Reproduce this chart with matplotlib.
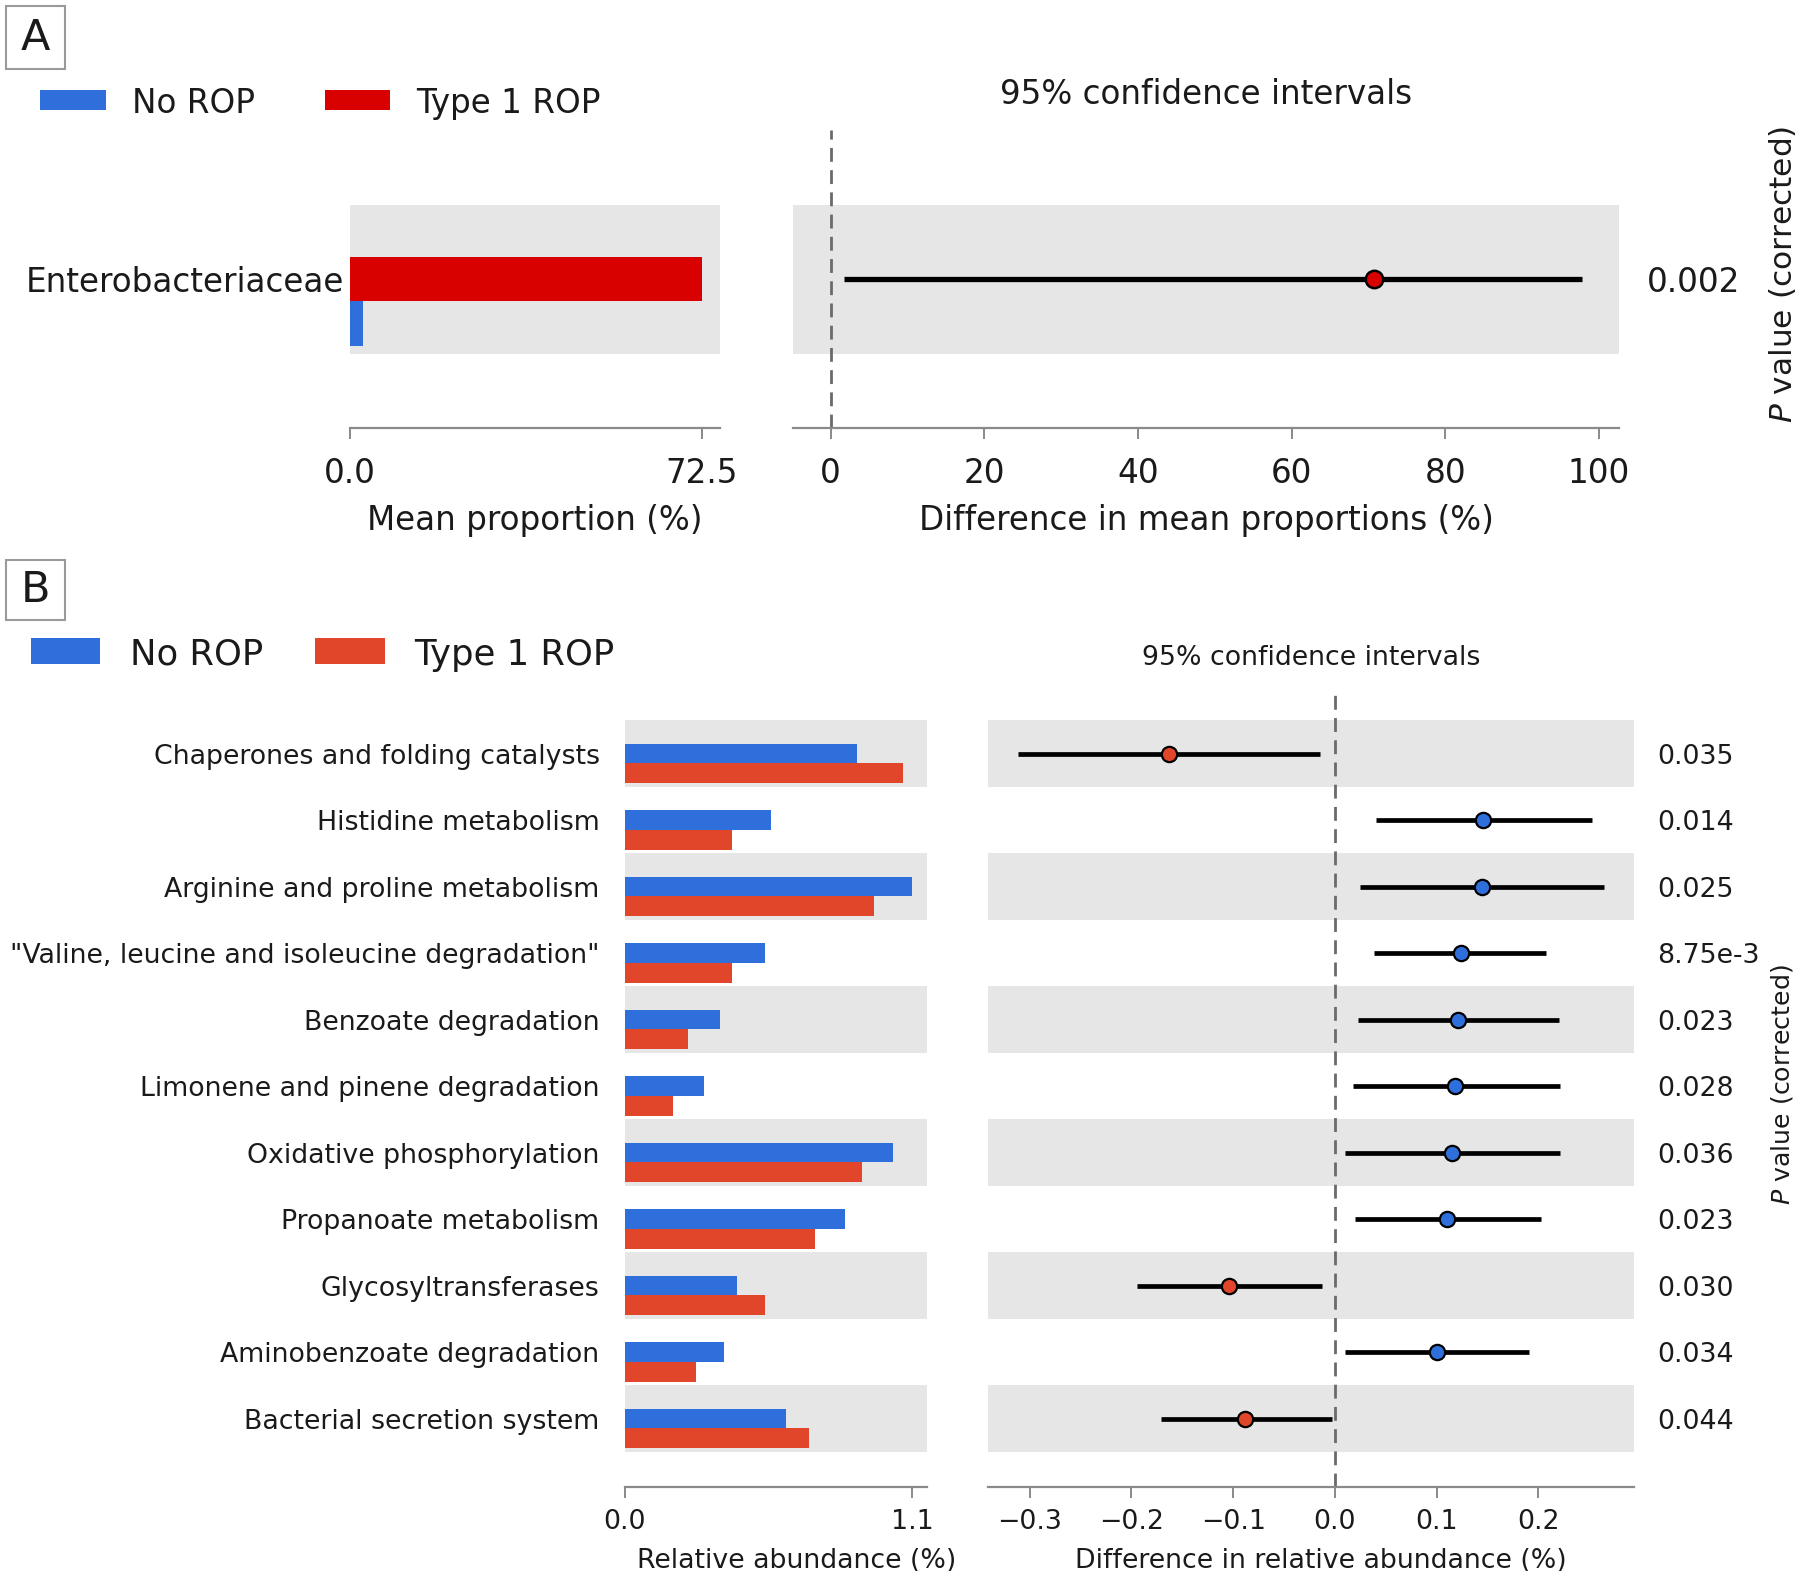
import matplotlib
matplotlib.use("Agg")
import matplotlib.pyplot as plt
from matplotlib.patches import Rectangle

W, H = 1800, 1571
DPI = 100

# ---------------- Panel A data ----------------
a_categories = ["Enterobacteriaceae"]
a_no_rop = [2.6]
a_type1 = [72.5]
a_diff = [70.7]
a_ci_low = [1.7]
a_ci_high = [97.8]
a_pvalues = ["0.002"]
a_diff_ticks = [0, 20, 40, 60, 80, 100]

# ---------------- Panel B data ----------------
b_categories = [
    "Chaperones and folding catalysts",
    "Histidine metabolism",
    "Arginine and proline metabolism",
    '"Valine, leucine and isoleucine degradation"',
    "Benzoate degradation",
    "Limonene and pinene degradation",
    "Oxidative phosphorylation",
    "Propanoate metabolism",
    "Glycosyltransferases",
    "Aminobenzoate degradation",
    "Bacterial secretion system",
]
b_no_rop = [0.889, 0.562, 1.100, 0.538, 0.367, 0.304, 1.025, 0.843, 0.431, 0.379, 0.616]
b_type1 = [1.065, 0.410, 0.955, 0.410, 0.241, 0.187, 0.908, 0.728, 0.538, 0.274, 0.707]
b_diff = [-0.163, 0.146, 0.145, 0.124, 0.121, 0.118, 0.115, 0.1105, -0.104, 0.100, -0.088]
b_ci_low = [-0.312, 0.0405, 0.0247, 0.0384, 0.0226, 0.0174, 0.0095, 0.0195, -0.1947, 0.0095, -0.1705]
b_ci_high = [-0.0147, 0.2526, 0.2642, 0.2079, 0.2200, 0.2211, 0.2211, 0.2026, -0.0126, 0.1905, -0.0026]
b_pvalues = ["0.035", "0.014", "0.025", "8.75e-3", "0.023", "0.028", "0.036", "0.023", "0.030", "0.034", "0.044"]
b_diff_ticks = [-0.3, -0.2, -0.1, 0.0, 0.1, 0.2]

group_names = ["No ROP", "Type 1 ROP"]

# ---------------- style ----------------
plt.rcParams["font.family"] = ["DejaVu Sans"]
TXT = "#1a1a1a"
BAND = "#e6e6e6"
SPINE = "#8a8a8a"
A_BLUE, A_RED = "#2f6fdc", "#d90000"
B_BLUE, B_RED = "#2f6fdc", "#e2462a"
FA = 23.5   # panel A font size
FB = 19.3   # panel B font size

fig = plt.figure(figsize=(W / DPI, H / DPI), dpi=DPI)


def add_ax(x0, y0, x1, y1):
    return fig.add_axes([x0 / W, 1 - y1 / H, (x1 - x0) / W, (y1 - y0) / H])


def fx(x):
    return x / W


def fy(y):
    return 1 - y / H


def style(ax, fs, pad):
    for s in ("top", "left", "right"):
        ax.spines[s].set_visible(False)
    ax.spines["bottom"].set_color(SPINE)
    ax.spines["bottom"].set_linewidth(1.6)
    ax.tick_params(axis="x", direction="out", length=8, width=1.4, color=SPINE,
                   labelsize=fs, labelcolor=TXT, pad=pad)
    ax.set_facecolor("none")


def panel_label(letter, x0, y0, x1, y1):
    fig.add_artist(Rectangle((fx(x0), fy(y1)), (x1 - x0) / W, (y1 - y0) / H,
                             transform=fig.transFigure, fc="white", ec="#9a9a9a", lw=1.5))
    fig.text(fx((x0 + x1) / 2), fy((y0 + y1) / 2), letter, ha="center", va="center",
             fontsize=31, color=TXT)


def legend(items, y0, y1, fs):
    for (px0, px1, tx, color, name) in items:
        fig.add_artist(Rectangle((fx(px0), fy(y1)), (px1 - px0) / W, (y1 - y0) / H,
                                 transform=fig.transFigure, fc=color, ec="none"))
        fig.text(fx(tx), fy((y0 + y1) / 2), name, ha="left", va="center_baseline",
                 fontsize=fs, color=TXT)


# ================= Panel A =================
panel_label("A", 6, 6, 65, 69)
legend([(40, 106, 132, A_BLUE, group_names[0]),
        (325, 390, 416, A_RED, group_names[1])], 90, 110, FA)

axA1 = add_ax(350, 130, 720, 428)
axA2 = add_ax(793, 130, 1619, 428)
ya = list(range(len(a_categories) - 1, -1, -1))

for i, y in enumerate(ya):
    if i % 2 == 0:
        axA1.axhspan(y - 0.5, y + 0.5, color=BAND, zorder=0, lw=0)
        axA2.axhspan(y - 0.5, y + 0.5, color=BAND, zorder=0, lw=0)
axA1.barh(ya, a_type1, height=0.3, left=0, color=A_RED, zorder=2)
axA1.barh([y - 0.3 for y in ya], a_no_rop, height=0.3, left=0, color=A_BLUE, zorder=2)
a_max = max(max(a_type1), max(a_no_rop))
axA1.set_xlim(0, a_max * 1.051)
axA1.set_ylim(-1, len(a_categories))
axA1.set_xticks([0, a_max], labels=["0.0", f"{a_max:.1f}"])
axA1.set_yticks(ya, labels=a_categories)
axA1.tick_params(axis="y", length=0, pad=4, labelsize=FA, labelcolor=TXT)
for t in axA1.get_yticklabels():
    t.set_va("center_baseline")
style(axA1, FA, 13)
axA1.set_xlabel("Mean proportion (%)", fontsize=FA, color=TXT, labelpad=10)

axA2.axvline(0, color="#6a6a6a", lw=2.0, ls=(0, (5, 3)), zorder=1)
axA2.hlines(ya, a_ci_low, a_ci_high, color="black", lw=3.8, zorder=2)
for y, d in zip(ya, a_diff):
    axA2.plot(d, y, "o", ms=12.5, mfc=A_RED if d > 0 else A_BLUE, mec="black", mew=1.8, zorder=3)
axA2.set_xlim(-4.9, 102.6)
axA2.set_ylim(-1, len(a_categories))
axA2.set_xticks(a_diff_ticks)
axA2.set_yticks([])
style(axA2, FA, 13)
axA2.set_xlabel("Difference in mean proportions (%)", fontsize=FA, color=TXT, labelpad=10)
for y, p in zip(ya, a_pvalues):
    axA2.annotate(p, xy=(1, y), xycoords=("axes fraction", "data"), xytext=(20, 0),
                  textcoords="offset points", ha="left", va="center_baseline",
                  fontsize=FA, color=TXT)
fig.text(fx(1206), fy(95), "95% confidence intervals", ha="center", va="center",
         fontsize=FA, color=TXT)
fig.text(fx(1782), fy(274), r"$\it{P}$ value (corrected)", rotation=90, ha="center",
         va="center", fontsize=22.5, color=TXT)

# ================= Panel B =================
panel_label("B", 6, 560, 65, 620)
legend([(31, 100, 130, B_BLUE, group_names[0]),
        (315, 385, 414, B_RED, group_names[1])], 638, 664, 25.5)

axB1 = add_ax(624.5, 687, 926.5, 1487)
axB2 = add_ax(988, 687, 1634, 1487)
n = len(b_categories)
yb = list(range(n - 1, -1, -1))

for i, y in enumerate(yb):
    if i % 2 == 0:
        axB1.axhspan(y - 0.5, y + 0.5, color=BAND, zorder=0, lw=0)
        axB2.axhspan(y - 0.5, y + 0.5, color=BAND, zorder=0, lw=0)
axB1.barh(yb, b_no_rop, height=0.3, left=0, color=B_BLUE, zorder=2)
axB1.barh([y - 0.3 for y in yb], b_type1, height=0.3, left=0, color=B_RED, zorder=2)
b_max = max(max(b_type1), max(b_no_rop))
axB1.set_xlim(0, b_max * 1.05)
axB1.set_ylim(-1.03, n)
axB1.set_xticks([0, b_max], labels=["0.0", f"{b_max:.1f}"])
axB1.set_yticks(yb, labels=b_categories)
axB1.tick_params(axis="y", length=0, pad=18, labelsize=FB, labelcolor=TXT)
style(axB1, FB, 8)
axB1.set_xlabel("Relative abundance (%)", fontsize=FB, color=TXT)
axB1.xaxis.set_label_coords(0.57, -0.076)

axB2.axvline(0, color="#6a6a6a", lw=2.0, ls=(0, (5, 3)), zorder=1)
axB2.hlines(yb, b_ci_low, b_ci_high, color="black", lw=3.4, zorder=2)
for y, d in zip(yb, b_diff):
    axB2.plot(d, y, "o", ms=11, mfc=B_BLUE if d > 0 else B_RED, mec="black", mew=1.6, zorder=3)
axB2.set_xlim(-0.341, 0.294)
axB2.set_ylim(-1.03, n)
axB2.set_xticks(b_diff_ticks)
axB2.set_yticks([])
style(axB2, FB, 8)
axB2.set_xlabel("Difference in relative abundance (%)", fontsize=FB, color=TXT)
axB2.xaxis.set_label_coords(0.515, -0.076)
for y, p in zip(yb, b_pvalues):
    axB2.annotate(p, xy=(1, y), xycoords=("axes fraction", "data"), xytext=(17, 0),
                  textcoords="offset points", ha="left", va="center_baseline",
                  fontsize=FB, color=TXT)
fig.text(fx(1311), fy(658), "95% confidence intervals", ha="center", va="center",
         fontsize=FB, color=TXT)
fig.text(fx(1782), fy(1085), r"$\it{P}$ value (corrected)", rotation=90, ha="center",
         va="center", fontsize=18.2, color=TXT)

fig.savefig("out.png", dpi=DPI, facecolor="white")
